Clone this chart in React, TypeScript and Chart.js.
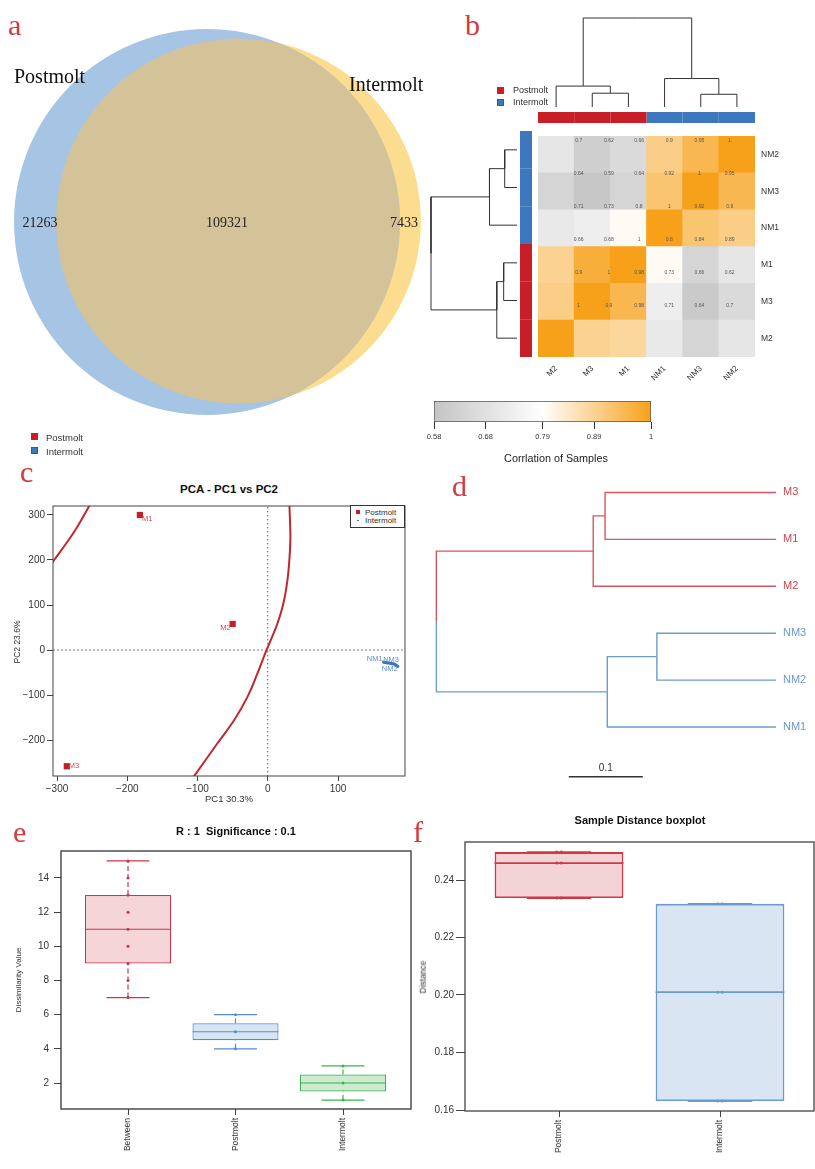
import React, { useEffect, useRef } from "react";
import { Chart, registerables } from "chart.js";

const SANS = "'Liberation Sans', Arial, Helvetica, sans-serif";
const SERIF = "'Liberation Serif', 'Times New Roman', serif";

/* ================= DATA ================= */
/* a: Venn */
const VENN_SETS = ["Postmolt", "Intermolt"];
const VENN_UNIQUE = [21263, 7433];
const VENN_SHARED = 109321;

/* b: correlation heatmap */
const HEAT_COLS = ["M2", "M3", "M1", "NM1", "NM3", "NM2"];
const HEAT_COL_GROUP = ["Postmolt", "Postmolt", "Postmolt", "Intermolt", "Intermolt", "Intermolt"];
const HEAT_ROWS = ["NM2", "NM3", "NM1", "M1", "M3", "M2"];
const HEAT_ROW_GROUP = ["Intermolt", "Intermolt", "Intermolt", "Postmolt", "Postmolt", "Postmolt"];
const CORR_NM2 = [0.7, 0.62, 0.66, 0.9, 0.95, 1.0];
const CORR_NM3 = [0.64, 0.59, 0.64, 0.92, 1.0, 0.95];
const CORR_NM1 = [0.71, 0.73, 0.8, 1.0, 0.92, 0.9];
const CORR_M1 = [0.89, 0.97, 1.0, 0.8, 0.64, 0.7];
const CORR_M3 = [0.9, 1.0, 0.95, 0.73, 0.6, 0.66];
const CORR_M2 = [1.0, 0.89, 0.88, 0.71, 0.64, 0.7];
const CELL_TEXT_1 = ["0.7", "0.62", "0.66", "0.9", "0.95", "1"];
const CELL_TEXT_2 = ["0.64", "0.59", "0.64", "0.92", "1", "0.95"];
const CELL_TEXT_3 = ["0.71", "0.73", "0.8", "1", "0.92", "0.9"];
const CELL_TEXT_4 = ["0.66", "0.68", "1", "0.8", "0.84", "0.89"];
const CELL_TEXT_5 = ["0.9", "1", "0.98", "0.73", "0.66", "0.62"];
const CELL_TEXT_6 = ["1", "0.9", "0.98", "0.71", "0.64", "0.7"];
const CORR_TICKS = [0.58, 0.68, 0.79, 0.89, 1];
// hclust-style merges: negative = leaf (1-based, display order), positive = earlier merge
const COL_MERGE_A = [-2, -1, -5, -4, 2];
const COL_MERGE_B = [-3, 1, -6, 3, 4];
const COL_HEIGHT = [0.155, 0.235, 0.143, 0.32, 1.0];
const ROW_MERGE_A = [-1, -3, -4, -6, 2];
const ROW_MERGE_B = [-2, 1, -5, 3, 4];
const ROW_HEIGHT = [0.143, 0.32, 0.155, 0.235, 1.0];

/* c: PCA */
const PCA_SAMPLES = ["M1", "M2", "M3", "NM1", "NM3", "NM2"];
const PCA_GROUP = ["Postmolt", "Postmolt", "Postmolt", "Intermolt", "Intermolt", "Intermolt"];
const PCA_PC1 = [-182, -50, -286, 165, 180, 185];
const PCA_PC2 = [300, 58, -258, -27, -31, -36];
const ELLIPSE_R_PC1 = [30.8, 32.2, 30.8, 28, 22.3, 13.8, 4.3, -2.8, -14.7, -28.9, -47.9, -71.6, -104.8, -113];
const ELLIPSE_R_PC2 = [323, 252, 201, 155, 104, 59, 22, -4, -52, -104, -156, -207, -280, -298];
const ELLIPSE_L_PC1 = [-315, -304, -285, -271, -253];
const ELLIPSE_L_PC2 = [175, 200, 241, 274, 323];
const PCA_X_TICKS = [-300, -200, -100, 0, 100];
const PCA_Y_TICKS = [-200, -100, 0, 100, 200, 300];

/* d: sample clustering tree */
const D_LEAVES = ["M3", "M1", "M2", "NM3", "NM2", "NM1"];
const D_GROUP = ["Postmolt", "Postmolt", "Postmolt", "Intermolt", "Intermolt", "Intermolt"];
const D_MERGE_A = [-1, 1, -4, 3, 2];
const D_MERGE_B = [-2, -3, -5, -6, 4];
const D_HEIGHT = [0.231, 0.247, 0.161, 0.228, 0.459];
const D_SCALE_LEN = 0.1;

/* e: ANOSIM boxplot */
const E_GROUPS = ["Between", "Postmolt", "Intermolt"];
const E_MIN = [7, 4, 1];
const E_Q1 = [9, 4.5, 1.5];
const E_MEDIAN = [11, 5, 2];
const E_Q3 = [13, 5.5, 2.5];
const E_MAX = [15, 6, 3];
const E_POINTS_BETWEEN = [7, 8, 9, 10, 11, 12, 13, 14, 15];
const E_POINTS_POSTMOLT = [4, 5, 6];
const E_POINTS_INTERMOLT = [1, 2, 3];
const E_Y_TICKS = [2, 4, 6, 8, 10, 12, 14];

/* f: sample distance boxplot */
const F_GROUPS = ["Postmolt", "Intermolt"];
const F_MIN = [0.2337, 0.1631];
const F_Q1 = [0.2337, 0.1631];
const F_MEDIAN = [0.2459, 0.201];
const F_Q3 = [0.2497, 0.2317];
const F_MAX = [0.2497, 0.2317];
const F_POINTS_POSTMOLT = [0.2337, 0.2459, 0.2497];
const F_POINTS_INTERMOLT = [0.1631, 0.201, 0.2317];
const F_Y_TICKS = [0.16, 0.18, 0.2, 0.22, 0.24];

/* ================= STYLE ================= */
const GROUP_COLOR: any = { Postmolt: "#c81e28", Intermolt: "#3d78bf" };
const CORR_STOPS: any[] = [[0.58, [196, 196, 196]], [0.79, [255, 255, 255]], [1, [247, 161, 26]]];
const LETTER_RED = "#d33a40";

/* ================= PLUGINS ================= */
const pointTextPlugin = {
  id: "pointText",
  afterDatasetsDraw(chart: any, _a: any, opts: any) {
    const items = opts && opts.items;
    if (!items || !items.length) return;
    const xs = chart.scales.x, ys = chart.scales.y;
    const ctx = chart.ctx;
    ctx.save();
    for (const it of items) {
      ctx.font = it.font;
      ctx.fillStyle = it.color || "#333";
      ctx.textAlign = it.align || "center";
      ctx.textBaseline = "middle";
      ctx.fillText(it.text, xs.getPixelForValue(it.x) + (it.dx || 0), ys.getPixelForValue(it.y) + (it.dy || 0));
    }
    ctx.restore();
  },
};
const framePlugin = {
  id: "frame",
  afterDraw(chart: any, _a: any, opts: any) {
    if (!opts || !opts.color) return;
    const a = chart.chartArea, ctx = chart.ctx;
    ctx.save();
    ctx.strokeStyle = opts.color;
    ctx.lineWidth = opts.width || 1;
    ctx.strokeRect(a.left, a.top, a.right - a.left, a.bottom - a.top);
    ctx.restore();
  },
};
Chart.register(...registerables, pointTextPlugin, framePlugin);
Chart.defaults.font.family = SANS;
Chart.defaults.color = "#333";

/* ================= HELPERS ================= */
type R = { x: number; y: number; w: number; h: number };
type A = { l: number; t: number; r: number; b: number };
function padFor(c: R, a: A, ax: any = {}) {
  return {
    left: a.l - c.x - (ax.l || 0),
    top: a.t - c.y - (ax.t || 0),
    right: c.x + c.w - a.r - (ax.r || 0),
    bottom: c.y + c.h - a.b - (ax.b || 0),
  };
}
function rangeFor(p0: number, p1: number, v1: number, q1: number, v2: number, q2: number) {
  const f = (p: number) => v1 + ((p - q1) * (v2 - v1)) / (q2 - q1);
  const a = f(p0), b = f(p1);
  return [Math.min(a, b), Math.max(a, b)];
}
function valAt(p: number, v1: number, q1: number, v2: number, q2: number) {
  return v1 + ((p - q1) * (v2 - v1)) / (q2 - q1);
}
function base(padding: any, plugins: any = {}) {
  return {
    responsive: false,
    maintainAspectRatio: false,
    animation: false,
    devicePixelRatio: 1,
    events: [],
    layout: { padding, autoPadding: false },
    plugins: { legend: { display: false }, tooltip: { enabled: false }, ...plugins },
  };
}
const hidden = (min: number, max: number, reverse = false) => ({ type: "linear", display: false, min, max, reverse });
function visAxis(p: any) {
  const ticks = p.ticks as number[];
  return {
    type: "linear",
    position: p.position,
    min: p.min,
    max: p.max,
    reverse: !!p.reverse,
    offset: false,
    afterBuildTicks: (s: any) => { s.ticks = ticks.map((v) => ({ value: v })); },
    afterFit: (s: any) => { if (p.vertical) s.width = p.fit; else s.height = p.fit; },
    grid: { display: p.drawTicks !== false, drawOnChartArea: false, drawTicks: p.drawTicks !== false, tickLength: p.tl ?? 6, color: p.tickColor || "#444", lineWidth: 1, offset: false },
    border: { display: false },
    ticks: {
      padding: p.pad ?? 2,
      font: { size: p.size ?? 10 },
      color: p.color ?? "#333",
      autoSkip: false,
      minRotation: p.rot ?? 0,
      maxRotation: p.rot ?? 0,
      callback: (v: number, i: number) => p.fmt(v, i),
    },
  };
}
function seg(data: any[], color: string, width: number, dash: number[] = [], order = 1) {
  return { type: "scatter", data, showLine: true, borderColor: color, backgroundColor: color, borderWidth: width, borderDash: dash, pointRadius: 0, pointHoverRadius: 0, tension: 0, order };
}
function dendroPaths(A: number[], B: number[], H: number[], groups: string[]) {
  const pos: number[] = [], grp: string[] = [];
  const node = (ref: number) =>
    ref < 0 ? { p: -ref - 1, h: 0, g: groups[-ref - 1] } : { p: pos[ref - 1], h: H[ref - 1], g: grp[ref - 1] };
  const out: any[] = [];
  A.forEach((a, i) => {
    const na = node(a), nb = node(B[i]);
    const mid = (na.p + nb.p) / 2;
    out.push({ pts: [[na.p, na.h], [na.p, H[i]], [mid, H[i]]], g: na.g });
    out.push({ pts: [[nb.p, nb.h], [nb.p, H[i]], [mid, H[i]]], g: nb.g });
    pos[i] = mid;
    grp[i] = na.g === nb.g ? na.g : "mixed";
  });
  return out;
}
function corrRGB(v: number) {
  for (let i = 0; i < CORR_STOPS.length - 1; i++) {
    const [v0, c0] = CORR_STOPS[i], [v1, c1] = CORR_STOPS[i + 1];
    if (v <= v1 || i === CORR_STOPS.length - 2) {
      const t = Math.max(0, Math.min(1, (v - v0) / (v1 - v0)));
      return c0.map((c: number, k: number) => Math.round(c + (c1[k] - c) * t));
    }
  }
  return [255, 255, 255];
}
const corrColor = (v: number) => `rgb(${corrRGB(v).join(",")})`;
const fmtMinus = (v: number) => (v < 0 ? "\u2212" + Math.abs(v) : String(v));

/* ================= a: VENN ================= */
const VENN_CANVAS: R = { x: 0, y: 0, w: 430, h: 430 };
const VENN_CX = [207, 238.5];
const VENN_CY = [222, 221];
const VENN_R_PER_SQRT = 0.534;
const VENN_FILL = ["#a6c4e3", "#fcdc8e"];
const VENN_OVERLAP = "#d4c399";
const VENN_NUM_X = [40, 227, 404];
const VENN_NUM_Y = 223;

function vennConfig() {
  const totals = [VENN_UNIQUE[0] + VENN_SHARED, VENN_UNIQUE[1] + VENN_SHARED];
  const overlap = {
    id: "vennOverlap",
    afterDatasetDraw(chart: any, args: any) {
      if (args.index !== 0) return;
      const a = chart.getDatasetMeta(0).data[0], b = chart.getDatasetMeta(1).data[0];
      const ctx = chart.ctx;
      ctx.save();
      ctx.beginPath();
      ctx.arc(a.x, a.y, a.options.radius, 0, Math.PI * 2);
      ctx.clip();
      ctx.beginPath();
      ctx.arc(b.x, b.y, b.options.radius, 0, Math.PI * 2);
      ctx.fillStyle = VENN_OVERLAP;
      ctx.fill();
      ctx.restore();
    },
  };
  const nums = [VENN_UNIQUE[0], VENN_SHARED, VENN_UNIQUE[1]];
  return {
    type: "bubble",
    data: {
      datasets: VENN_SETS.map((s, i) => ({
        label: s,
        data: [{ x: VENN_CX[i], y: VENN_CY[i], r: VENN_R_PER_SQRT * Math.sqrt(totals[i]) }],
        backgroundColor: VENN_FILL[i],
        borderWidth: 0,
        clip: false,
      })),
    },
    options: {
      ...base({ left: 0, top: 0, right: 0, bottom: 0 }, {
        pointText: { items: nums.map((n, i) => ({ x: VENN_NUM_X[i], y: VENN_NUM_Y, text: String(n), font: `14px ${SERIF}`, color: "#222" })) },
      }),
      scales: { x: hidden(0, VENN_CANVAS.w), y: hidden(0, VENN_CANVAS.h, true) },
    },
    plugins: [overlap],
  };
}

/* ================= b: HEATMAP ================= */
const HEAT_CANVAS: R = { x: 530, y: 125, w: 285, h: 275 };
const HEAT_AREA: A = { l: 538, t: 131, r: 755, b: 357 };
const NUM_X0 = 0.625, NUM_DX = 0.835, NUM_Y0 = 5.867, NUM_DY = -0.897;

function heatConfig() {
  const matrix = [CORR_NM2, CORR_NM3, CORR_NM1, CORR_M1, CORR_M3, CORR_M2];
  const texts = [CELL_TEXT_1, CELL_TEXT_2, CELL_TEXT_3, CELL_TEXT_4, CELL_TEXT_5, CELL_TEXT_6];
  const datasets = matrix
    .map((row, i) => ({
      label: HEAT_ROWS[i],
      data: row.map(() => 1),
      backgroundColor: row.map(corrColor),
      borderWidth: 0,
      barPercentage: 1,
      categoryPercentage: 1,
    }))
    .reverse();
  const items: any[] = [];
  texts.forEach((row, s) =>
    row.forEach((t, j) => items.push({ x: NUM_X0 + NUM_DX * j, y: NUM_Y0 + NUM_DY * s, text: t, font: `5px ${SANS}`, color: "#555" }))
  );
  const n = HEAT_ROWS.length;
  return {
    type: "bar",
    data: { labels: HEAT_COLS, datasets },
    options: {
      ...base(padFor(HEAT_CANVAS, HEAT_AREA, { r: 40, b: 30 }), { pointText: { items } }),
      scales: {
        x: {
          type: "category",
          stacked: true,
          grid: { display: false, drawTicks: false },
          border: { display: false },
          ticks: { font: { size: 8 }, color: "#333", padding: 7, minRotation: 45, maxRotation: 45, autoSkip: false },
          afterFit: (s: any) => { s.height = 30; },
        },
        y: {
          ...visAxis({
            min: 0, max: n, vertical: true, position: "right", fit: 40,
            ticks: HEAT_ROWS.map((_, i) => i + 0.5),
            fmt: (_v: number, i: number) => HEAT_ROWS[n - 1 - i],
            drawTicks: false, pad: 6, size: 8.5,
          }),
          stacked: true,
        },
      },
    },
  };
}

const TOPD_CANVAS: R = { x: 533, y: 8, w: 227, h: 122 };
const TOPD_AREA: A = { l: 538, t: 14, r: 755, b: 124 };
const TOPD_LEAF_PX = 107, TOPD_ROOT_PX = 18, TOPD_BAR_PX = 117.5, TOPD_BAR_W = 11;
function topDendroConfig() {
  const [ymin, ymax] = rangeFor(TOPD_AREA.t, TOPD_AREA.b, 0, TOPD_LEAF_PX, 1, TOPD_ROOT_PX);
  const paths = dendroPaths(COL_MERGE_A, COL_MERGE_B, COL_HEIGHT, HEAT_COL_GROUP);
  const ds: any[] = paths.map((p) => seg(p.pts.map(([q, h]: number[]) => ({ x: q, y: h })), "#333", 1));
  const barY = valAt(TOPD_BAR_PX, 0, TOPD_LEAF_PX, 1, TOPD_ROOT_PX);
  HEAT_COLS.forEach((_, j) => ds.push(seg([{ x: j - 0.5, y: barY }, { x: j + 0.5, y: barY }], GROUP_COLOR[HEAT_COL_GROUP[j]], TOPD_BAR_W)));
  return {
    type: "scatter",
    data: { datasets: ds },
    options: { ...base(padFor(TOPD_CANVAS, TOPD_AREA)), scales: { x: hidden(-0.5, HEAT_COLS.length - 0.5), y: hidden(ymin, ymax) } },
  };
}

const LEFTD_CANVAS: R = { x: 420, y: 125, w: 118, h: 238 };
const LEFTD_AREA: A = { l: 425, t: 131, r: 533, b: 357 };
const LEFTD_LEAF_PX = 517, LEFTD_ROOT_PX = 431, LEFTD_BAR_PX = 526, LEFTD_BAR_W = 12;
function leftDendroConfig() {
  const [xmin, xmax] = rangeFor(LEFTD_AREA.l, LEFTD_AREA.r, 0, LEFTD_LEAF_PX, 1, LEFTD_ROOT_PX);
  const paths = dendroPaths(ROW_MERGE_A, ROW_MERGE_B, ROW_HEIGHT, HEAT_ROW_GROUP);
  const ds: any[] = paths.map((p) => seg(p.pts.map(([q, h]: number[]) => ({ x: h, y: q })), "#333", 1));
  const barX = valAt(LEFTD_BAR_PX, 0, LEFTD_LEAF_PX, 1, LEFTD_ROOT_PX);
  HEAT_ROWS.forEach((_, i) => ds.push(seg([{ x: barX, y: i - 0.5 }, { x: barX, y: i + 0.5 }], GROUP_COLOR[HEAT_ROW_GROUP[i]], LEFTD_BAR_W)));
  return {
    type: "scatter",
    data: { datasets: ds },
    options: { ...base(padFor(LEFTD_CANVAS, LEFTD_AREA)), scales: { x: hidden(xmin, xmax, true), y: hidden(-0.5, HEAT_ROWS.length - 0.5, true) } },
  };
}

const CB_CANVAS: R = { x: 420, y: 395, w: 250, h: 55 };
const CB_AREA: A = { l: 434, t: 401, r: 651, b: 422 };
function cbarConfig() {
  const lo = CORR_TICKS[0], hi = CORR_TICKS[CORR_TICKS.length - 1];
  return {
    type: "bar",
    data: {
      labels: [""],
      datasets: [{
        data: [[lo, hi]],
        backgroundColor: (c: any) => {
          const xs = c.chart.scales && c.chart.scales.x;
          if (!c.chart.chartArea || !xs) return "#ddd";
          const g = c.chart.ctx.createLinearGradient(xs.getPixelForValue(lo), 0, xs.getPixelForValue(hi), 0);
          CORR_STOPS.forEach(([v, col]: any) => g.addColorStop((v - lo) / (hi - lo), `rgb(${col.join(",")})`));
          return g;
        },
        borderColor: "#555",
        borderWidth: 1,
        borderSkipped: false,
        barPercentage: 1,
        categoryPercentage: 1,
      }],
    },
    options: {
      ...base(padFor(CB_CANVAS, CB_AREA, { b: 22 })),
      indexAxis: "y",
      scales: {
        x: visAxis({ min: lo, max: hi, ticks: CORR_TICKS, fmt: (v: number) => String(v), fit: 22, tl: 7, pad: 3, size: 7.5, tickColor: "#333" }),
        y: { type: "category", display: false },
      },
    },
  };
}

/* ================= c: PCA ================= */
const PCA_CANVAS: R = { x: 0, y: 498, w: 420, h: 302 };
const PCA_AREA: A = { l: 53, t: 505, r: 405, b: 776 };
const PCA_LABEL_STYLE: any = {
  M1: ["left", 2, 4], M2: ["right", -2, 4], M3: ["left", 2, 0],
  NM1: ["right", -1, -3], NM3: ["left", -11, -4], NM2: ["center", -8, 3],
};
function pcaConfig() {
  const [xmin, xmax] = rangeFor(PCA_AREA.l, PCA_AREA.r, -300, 57, 100, 338);
  const [ymin, ymax] = rangeFor(PCA_AREA.t, PCA_AREA.b, 300, 514, -200, 740);
  const red = "#c1272d", blue = "#3a75c0";
  const zip = (a: number[], b: number[]) => a.map((x, i) => ({ x, y: b[i] }));
  const post = PCA_SAMPLES.map((_, i) => i).filter((i) => PCA_GROUP[i] === "Postmolt");
  const inter = PCA_SAMPLES.map((_, i) => i).filter((i) => PCA_GROUP[i] === "Intermolt");
  const ds: any[] = [
    seg([{ x: 0, y: -1000 }, { x: 0, y: 1000 }], "#555", 1, [1.5, 2.5], 5),
    seg([{ x: -1000, y: 0 }, { x: 1000, y: 0 }], "#555", 1, [1.5, 2.5], 5),
    { ...seg(zip(ELLIPSE_R_PC1, ELLIPSE_R_PC2), red, 2, [], 3), tension: 0.4 },
    { ...seg(zip(ELLIPSE_L_PC1, ELLIPSE_L_PC2), red, 2, [], 3), tension: 0.4 },
    { ...seg(inter.map((i) => ({ x: PCA_PC1[i], y: PCA_PC2[i] })), blue, 3.2, [], 2), borderCapStyle: "round" },
    {
      type: "scatter",
      data: post.map((i) => ({ x: PCA_PC1[i], y: PCA_PC2[i] })),
      pointStyle: "rect", pointRadius: 4.4, backgroundColor: "#c41e2a", borderWidth: 0, order: 0,
    },
  ];
  const items = PCA_SAMPLES.map((s, i) => {
    const [align, dx, dy] = PCA_LABEL_STYLE[s];
    return { x: PCA_PC1[i], y: PCA_PC2[i], text: s, align, dx, dy, font: `7.5px ${SANS}`, color: PCA_GROUP[i] === "Postmolt" ? "#cc4a52" : "#5b8fcc" };
  });
  return {
    type: "scatter",
    data: { datasets: ds },
    options: {
      ...base(padFor(PCA_CANVAS, PCA_AREA, { l: 30, b: 20 }), { pointText: { items }, frame: { color: "#444", width: 1 } }),
      scales: {
        x: visAxis({ min: xmin, max: xmax, ticks: PCA_X_TICKS, fmt: fmtMinus, fit: 20, tl: 5, pad: 2, size: 10 }),
        y: visAxis({ min: ymin, max: ymax, ticks: PCA_Y_TICKS, fmt: fmtMinus, fit: 30, vertical: true, tl: 6, pad: 2, size: 10 }),
      },
    },
  };
}

/* ================= d: TREE ================= */
const D_CANVAS: R = { x: 425, y: 455, w: 390, h: 360 };
const D_AREA: A = { l: 430, t: 461, r: 776, b: 810 };
const D_LINE: any = { Postmolt: "#d9545c", Intermolt: "#6d9dcc" };
const D_TEXT: any = { Postmolt: "#d2444c", Intermolt: "#6a9acb" };
const D_TIP_PX = 776, D_PX_PER_UNIT = 740, D_FIRST_LEAF_PX = 486, D_LEAF_STEP = 49.2;
const SCALE_BAR_AT = 0.28, SCALE_BAR_ROW = 6.06;
function dConfig() {
  const [xmin, xmax] = rangeFor(D_AREA.l, D_AREA.r, 0, D_TIP_PX, 1, D_TIP_PX - D_PX_PER_UNIT);
  const [ymin, ymax] = rangeFor(D_AREA.t, D_AREA.b, 0, D_FIRST_LEAF_PX, 1, D_FIRST_LEAF_PX + D_LEAF_STEP);
  const paths = dendroPaths(D_MERGE_A, D_MERGE_B, D_HEIGHT, D_GROUP);
  const ds: any[] = paths.map((p) => seg(p.pts.map(([q, h]: number[]) => ({ x: h, y: q })), D_LINE[p.g], 1.4));
  ds.push(seg([{ x: SCALE_BAR_AT, y: SCALE_BAR_ROW }, { x: SCALE_BAR_AT - D_SCALE_LEN, y: SCALE_BAR_ROW }], "#333", 1.5));
  return {
    type: "scatter",
    data: { datasets: ds },
    options: {
      ...base(padFor(D_CANVAS, D_AREA, { r: 35 }), {
        pointText: { items: [{ x: SCALE_BAR_AT - D_SCALE_LEN / 2, y: SCALE_BAR_ROW, dy: -9, text: String(D_SCALE_LEN), font: `10px ${SANS}`, color: "#333" }] },
      }),
      scales: {
        x: hidden(xmin, xmax, true),
        y: visAxis({
          min: ymin, max: ymax, reverse: true, vertical: true, position: "right", fit: 35,
          ticks: D_LEAVES.map((_, i) => i), fmt: (_v: number, i: number) => D_LEAVES[i],
          drawTicks: false, pad: 7, size: 11,
          color: (c: any) => D_TEXT[D_GROUP[c.index]] || "#333",
        }),
      },
    },
  };
}

/* ================= e / f: BOXPLOTS ================= */
const BOX_HALF = 0.4, CAP_HALF = 0.2;
function boxDatasets(st: any, points: number[][], stroke: string[], fill: string[], lw: number, dotPair: number) {
  const ds: any[] = [{
    type: "bar",
    data: st.q1.map((q: number, i: number) => ({ x: i + 1, y: [q, st.q3[i]] })),
    backgroundColor: fill, borderColor: stroke, borderWidth: lw, borderSkipped: false,
    barPercentage: 1, categoryPercentage: 0.8, order: 5,
  }];
  st.q1.forEach((_: number, i: number) => {
    const g = i + 1, c = stroke[i];
    ds.push(seg([{ x: g - BOX_HALF, y: st.med[i] }, { x: g + BOX_HALF, y: st.med[i] }], c, lw));
    ds.push(seg([{ x: g, y: st.q3[i] }, { x: g, y: st.max[i] }], c, lw, [5, 3]));
    ds.push(seg([{ x: g, y: st.min[i] }, { x: g, y: st.q1[i] }], c, lw, [5, 3]));
    ds.push(seg([{ x: g - CAP_HALF, y: st.max[i] }, { x: g + CAP_HALF, y: st.max[i] }], c, lw));
    ds.push(seg([{ x: g - CAP_HALF, y: st.min[i] }, { x: g + CAP_HALF, y: st.min[i] }], c, lw));
    const offs = dotPair ? [-dotPair, dotPair] : [0];
    offs.forEach((o) =>
      ds.push({ type: "scatter", data: points[i].map((v) => ({ x: g + o, y: v })), pointRadius: 1.5, backgroundColor: c, borderWidth: 0, order: 0 })
    );
  });
  return ds;
}

const E_CANVAS: R = { x: 0, y: 840, w: 420, h: 329 };
const E_AREA: A = { l: 61, t: 851, r: 411, b: 1109 };
function eConfig() {
  const [xmin, xmax] = rangeFor(E_AREA.l, E_AREA.r, 1, 128, 3, 343);
  const [ymin, ymax] = rangeFor(E_AREA.t, E_AREA.b, 14, 878, 2, 1083);
  const ds = boxDatasets(
    { min: E_MIN, q1: E_Q1, med: E_MEDIAN, q3: E_Q3, max: E_MAX },
    [E_POINTS_BETWEEN, E_POINTS_POSTMOLT, E_POINTS_INTERMOLT],
    ["#c8374a", "#5a8ccd", "#3cb44b"],
    ["#f5d5d8", "#d7e4f4", "#ccebd1"],
    1.2, 0
  );
  return {
    type: "bar",
    data: { datasets: ds },
    options: {
      ...base(padFor(E_CANVAS, E_AREA, { l: 30, b: 55 }), { frame: { color: "#333", width: 1.3 } }),
      scales: {
        x: visAxis({ min: xmin, max: xmax, ticks: E_GROUPS.map((_, i) => i + 1), fmt: (_v: number, i: number) => E_GROUPS[i], fit: 55, tl: 6, pad: 3, size: 8.5, rot: 90 }),
        y: visAxis({ min: ymin, max: ymax, ticks: E_Y_TICKS, fmt: (v: number) => String(v), fit: 30, vertical: true, tl: 7, pad: 5, size: 10 }),
      },
    },
  };
}

const F_CANVAS: R = { x: 418, y: 830, w: 397, h: 339 };
const F_AREA: A = { l: 465, t: 842, r: 814, b: 1111 };
function fConfig() {
  const [xmin, xmax] = rangeFor(F_AREA.l, F_AREA.r, 1, 559, 2, 720);
  const [ymin, ymax] = rangeFor(F_AREA.t, F_AREA.b, 0.24, 880, 0.16, 1110);
  const ds = boxDatasets(
    { min: F_MIN, q1: F_Q1, med: F_MEDIAN, q3: F_Q3, max: F_MAX },
    [F_POINTS_POSTMOLT, F_POINTS_INTERMOLT],
    ["#cf3a44", "#6b9bd2"],
    ["#f4d3d6", "#d9e5f3"],
    1.8, 0.014
  );
  return {
    type: "bar",
    data: { datasets: ds },
    options: {
      ...base(padFor(F_CANVAS, F_AREA, { l: 30, b: 52 }), { frame: { color: "#444", width: 1.3 } }),
      scales: {
        x: visAxis({ min: xmin, max: xmax, ticks: F_GROUPS.map((_, i) => i + 1), fmt: (_v: number, i: number) => F_GROUPS[i], fit: 52, tl: 6, pad: 3, size: 8.5, rot: 90 }),
        y: visAxis({ min: ymin, max: ymax, ticks: F_Y_TICKS, fmt: (v: number) => v.toFixed(2), fit: 30, vertical: true, tl: 9, pad: 2, size: 10 }),
      },
    },
  };
}

/* ================= COMPONENTS ================= */
function ChartCanvas({ rect, build }: { rect: R; build: () => any }) {
  const ref = useRef<HTMLCanvasElement>(null);
  useEffect(() => {
    const chart = new Chart(ref.current as HTMLCanvasElement, build());
    return () => chart.destroy();
  }, []);
  return (
    <canvas
      ref={ref}
      width={rect.w}
      height={rect.h}
      style={{ position: "absolute", left: rect.x, top: rect.y, width: rect.w, height: rect.h }}
    />
  );
}

function Txt({ x, y, s, size, color = "#222", weight = 400, family = SANS, anchor = "start", rotate = false }: any) {
  const style: any = {
    position: "absolute", whiteSpace: "pre", fontFamily: family, fontSize: size,
    fontWeight: weight, color, lineHeight: `${size}px`,
  };
  if (rotate) {
    style.left = x; style.top = y;
    style.transform = "translate(-50%, -50%) rotate(-90deg)";
  } else {
    style.left = x; style.top = y - 0.84 * size;
    if (anchor === "middle") style.transform = "translateX(-50%)";
    else if (anchor === "end") style.transform = "translateX(-100%)";
  }
  return <div style={style}>{s}</div>;
}

function Swatch({ x, y, size, color, border = "#555" }: any) {
  return (
    <div style={{ position: "absolute", left: x, top: y, width: size, height: size, background: color, boxSizing: "border-box", border: `1px solid ${border}` }} />
  );
}

export default function App() {
  const letters = [["a", 8, 35], ["b", 465, 35], ["c", 20, 482], ["d", 452, 496], ["e", 13, 842], ["f", 413, 842]];
  return (
    <div style={{ position: "absolute", left: 0, top: 0, width: 815, height: 1169, background: "#fff", overflow: "hidden" }}>
      <ChartCanvas rect={VENN_CANVAS} build={vennConfig} />
      <ChartCanvas rect={TOPD_CANVAS} build={topDendroConfig} />
      <ChartCanvas rect={LEFTD_CANVAS} build={leftDendroConfig} />
      <ChartCanvas rect={HEAT_CANVAS} build={heatConfig} />
      <ChartCanvas rect={CB_CANVAS} build={cbarConfig} />
      <ChartCanvas rect={PCA_CANVAS} build={pcaConfig} />
      <ChartCanvas rect={D_CANVAS} build={dConfig} />
      <ChartCanvas rect={E_CANVAS} build={eConfig} />
      <ChartCanvas rect={F_CANVAS} build={fConfig} />

      {letters.map(([l, x, y]) => (
        <Txt key={l as string} x={x} y={y} s={l} size={30} color={LETTER_RED} family={SERIF} />
      ))}

      {/* a */}
      <Txt x={14} y={83} s={VENN_SETS[0]} size={20} family={SERIF} color="#111" />
      <Txt x={349} y={91} s={VENN_SETS[1]} size={20} family={SERIF} color="#111" />
      <Swatch x={31} y={433} size={7} color={GROUP_COLOR.Postmolt} />
      <Swatch x={31} y={447} size={7} color={GROUP_COLOR.Intermolt} />
      <Txt x={46} y={441} s={VENN_SETS[0]} size={9.5} color="#333" />
      <Txt x={46} y={455} s={VENN_SETS[1]} size={9.5} color="#333" />

      {/* b */}
      <Swatch x={497} y={87} size={7} color={GROUP_COLOR.Postmolt} />
      <Swatch x={497} y={99} size={7} color={GROUP_COLOR.Intermolt} />
      <Txt x={513} y={93.5} s={VENN_SETS[0]} size={9} color="#333" />
      <Txt x={513} y={105.5} s={VENN_SETS[1]} size={9} color="#333" />
      <Txt x={556} y={462} s="Corrlation of Samples" size={10.8} color="#222" anchor="middle" />

      {/* c */}
      <Txt x={229} y={494} s="PCA - PC1 vs PC2" size={11.5} weight={700} color="#111" anchor="middle" />
      <Txt x={229} y={802} s="PC1 30.3%" size={9.5} color="#333" anchor="middle" />
      <Txt x={17} y={642} s="PC2 23.6%" size={8.5} color="#333" rotate />
      <div style={{ position: "absolute", left: 350, top: 505, width: 55, height: 23, border: "1px solid #333", boxSizing: "border-box", background: "#fff" }} />
      <div style={{ position: "absolute", left: 356, top: 510, width: 4, height: 4, background: "#c41e2a" }} />
      <div style={{ position: "absolute", left: 357, top: 520, width: 2, height: 1, background: "#3a75c0" }} />
      <Txt x={365} y={515.5} s={VENN_SETS[0]} size={8} color="#333" />
      <Txt x={365} y={523.5} s={VENN_SETS[1]} size={8} color="#333" />

      {/* e */}
      <Txt x={236} y={835} s="R : 1  Significance : 0.1" size={11} weight={700} color="#111" anchor="middle" />
      <Txt x={19} y={980} s="Dissimilarity Value" size={8} color="#333" rotate />

      {/* f */}
      <Txt x={640} y={824} s="Sample Distance boxplot" size={11} weight={700} color="#111" anchor="middle" />
      <Txt x={423} y={977} s="Distance" size={8.5} color="#333" rotate />
    </div>
  );
}
